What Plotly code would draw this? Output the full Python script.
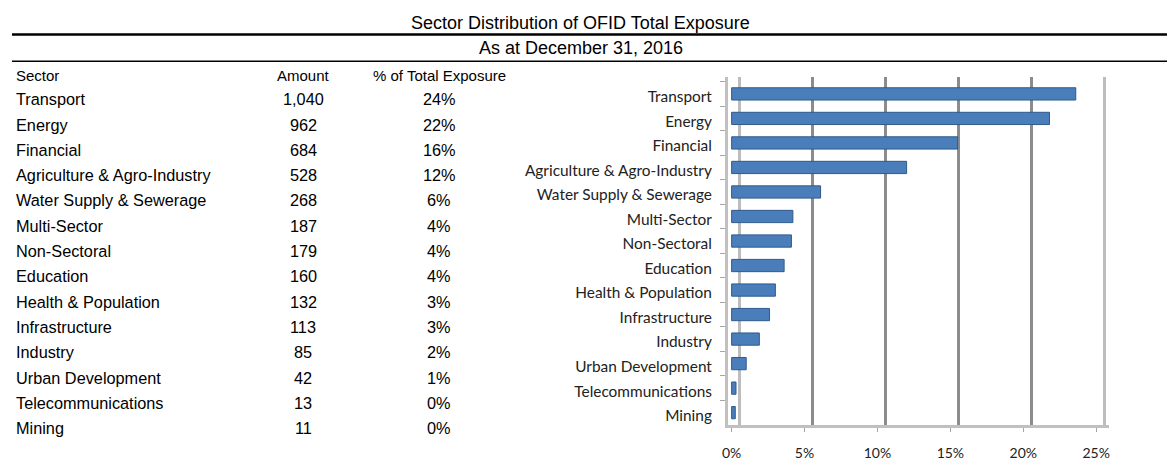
import plotly.graph_objects as go

# ---------------- data ----------------
title_text = "Sector Distribution of OFID Total Exposure"
subtitle_text = "As at December 31, 2016"
col_headers = ["Sector", "Amount", "% of Total Exposure"]
sectors = [
    "Transport", "Energy", "Financial", "Agriculture & Agro-Industry",
    "Water Supply & Sewerage", "Multi-Sector", "Non-Sectoral", "Education",
    "Health & Population", "Infrastructure", "Industry", "Urban Development",
    "Telecommunications", "Mining",
]
amounts = ["1,040", "962", "684", "528", "268", "187", "179", "160",
           "132", "113", "85", "42", "13", "11"]
pct_labels = ["24%", "22%", "16%", "12%", "6%", "4%", "4%", "4%",
              "3%", "3%", "2%", "1%", "0%", "0%"]
# bar lengths (% of total exposure)
share_pct = [23.6, 21.8, 15.5, 12.0, 6.1, 4.2, 4.1, 3.6, 3.0, 2.6, 1.9, 1.0, 0.3, 0.25]
x_ticks = [0, 5, 10, 15, 20, 25]
x_tick_text = ["0%", "5%", "10%", "15%", "20%", "25%"]

# ---------------- layout helpers ----------------
W, H = 1168, 461
def fx(p):
    return p / W
def fy(p):
    return 1 - p / H

TABLE_FONT = "Liberation Sans, Arial, sans-serif"
CHART_FONT = "Lato, Open Sans, sans-serif"

# x-axis geometry (pixels)
zero_px = 730.0
px_per_unit = 14.67
x_range = [-0.25, 25.9]
left_px = zero_px + x_range[0] * px_per_unit
right_px = zero_px + x_range[1] * px_per_unit
grid_shift = 8.0 / px_per_unit  # back-wall offset of the 3D grid

fig = go.Figure()

fig.add_trace(go.Bar(
    x=share_pct, y=sectors, orientation="h",
    width=0.5,
    marker=dict(color="#4a7ebb", line=dict(color="#2f5a8c", width=1)),
    xaxis="x", yaxis="y", showlegend=False, hoverinfo="x+y",
))
# empty traces to anchor the grid (back wall) axes
fig.add_trace(go.Scatter(x=[], y=[], xaxis="x2", yaxis="y", showlegend=False))
fig.add_trace(go.Scatter(x=[], y=[], xaxis="x3", yaxis="y", showlegend=False))

dom_x = [fx(left_px), fx(right_px)]
dom_y = [fy(431), fy(78)]

fig.update_layout(
    width=W, height=H,
    margin=dict(l=0, r=0, t=0, b=0),
    paper_bgcolor="white", plot_bgcolor="rgba(0,0,0,0)",
    bargap=0.5,
    xaxis=dict(
        domain=dom_x, range=x_range, anchor="y",
        tickvals=x_ticks, ticktext=x_tick_text,
        showgrid=False, zeroline=False,
        showline=True, linecolor="#c0c0c0", linewidth=3,
        ticks="outside", ticklen=4, tickcolor="#a6a6a6", tickwidth=1,
        tickfont=dict(family=CHART_FONT, size=14, color="#222222"),
        ticklabelstandoff=9,
        fixedrange=True,
    ),
    xaxis2=dict(
        domain=dom_x, overlaying="x", anchor="y",
        range=[x_range[0] - grid_shift, x_range[1] - grid_shift],
        tickvals=[5, 10, 15, 20], showticklabels=False, ticks="",
        showgrid=True, gridcolor="#8c8c8c", gridwidth=3,
        zeroline=False, showline=False, fixedrange=True,
    ),
    xaxis3=dict(
        domain=dom_x, overlaying="x", anchor="y",
        range=[x_range[0] - grid_shift, x_range[1] - grid_shift],
        tickvals=[0, 25], showticklabels=False, ticks="",
        showgrid=True, gridcolor="#bdbdbd", gridwidth=3,
        zeroline=False, showline=False, fixedrange=True,
    ),
    yaxis=dict(
        domain=dom_y, anchor="x",
        type="category", categoryorder="array", categoryarray=sectors,
        range=[13.52, -0.69],
        showgrid=False, zeroline=False,
        showline=True, linecolor="#c0c0c0", linewidth=3,
        ticks="outside", tickson="boundaries", ticklen=5,
        tickcolor="#a6a6a6", tickwidth=1,
        tickfont=dict(family=CHART_FONT, size=15.4, color="#222222"),
        ticklabelstandoff=10,
        ticklabelshift=-3,
        fixedrange=True,
    ),
)

annotations = []
annotations.append(dict(text=title_text, x=fx(578), y=fy(23), xref="paper", yref="paper",
                        xanchor="center", yanchor="middle", showarrow=False,
                        font=dict(family=TABLE_FONT, size=18, color="black")))
annotations.append(dict(text=subtitle_text, x=fx(578), y=fy(49), xref="paper", yref="paper",
                        xanchor="center", yanchor="middle", showarrow=False,
                        font=dict(family=TABLE_FONT, size=18, color="black")))

col_x = [8, 299, 436]
col_anchor = ["left", "center", "center"]
header_y = 77
for cx, ca, txt in zip(col_x, col_anchor, col_headers):
    annotations.append(dict(text=txt, x=fx(cx), y=fy(header_y), xref="paper", yref="paper",
                            xanchor=ca, yanchor="middle", showarrow=False,
                            font=dict(family=TABLE_FONT, size=15, color="black")))

row0, row_step = 100.5, 25.65
for i, (s, a, p) in enumerate(zip(sectors, amounts, pct_labels)):
    ry = row0 + i * row_step
    for cx, ca, txt in zip(col_x, col_anchor, (s, a, p)):
        annotations.append(dict(text=txt, x=fx(cx), y=fy(ry), xref="paper", yref="paper",
                                xanchor=ca, yanchor="middle", showarrow=False,
                                font=dict(family=TABLE_FONT, size=16.3, color="black")))

fig.update_layout(annotations=annotations)

fig.add_shape(type="line", xref="paper", yref="paper",
              x0=fx(6), x1=1, y0=fy(35), y1=fy(35),
              line=dict(color="black", width=2.5))
fig.add_shape(type="line", xref="paper", yref="paper",
              x0=fx(6), x1=1, y0=fy(62), y1=fy(62),
              line=dict(color="black", width=1.5))

fig.write_html(
    "out.html",
    config={"displayModeBar": False},
    post_script="document.body.style.margin='0';document.body.style.overflow='hidden';",
)
